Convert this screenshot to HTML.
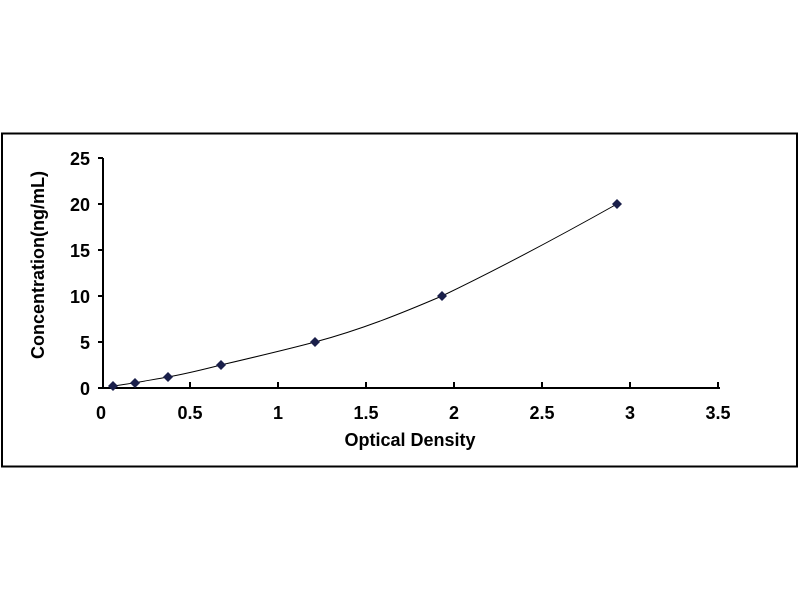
<!DOCTYPE html>
<html><head><style>body{margin:0;background:#fff}</style></head><body>
<svg width="800" height="600" xmlns="http://www.w3.org/2000/svg" style="display:block">
<rect x="0" y="0" width="800" height="600" fill="#fff"/>
<rect x="2" y="133.5" width="795" height="333" fill="none" stroke="#000" stroke-width="2"/>
<g stroke="#000" stroke-width="2" fill="none">
<line x1="103" y1="158" x2="103" y2="388"/>
<line x1="103" y1="388" x2="720" y2="388"/>
<line x1="98" y1="158" x2="103" y2="158"/>
<line x1="98" y1="204" x2="103" y2="204"/>
<line x1="98" y1="250" x2="103" y2="250"/>
<line x1="98" y1="296" x2="103" y2="296"/>
<line x1="98" y1="342" x2="103" y2="342"/>
<line x1="98" y1="388" x2="103" y2="388"/>
<line x1="190" y1="382" x2="190" y2="388"/>
<line x1="278" y1="382" x2="278" y2="388"/>
<line x1="366" y1="382" x2="366" y2="388"/>
<line x1="454" y1="382" x2="454" y2="388"/>
<line x1="542" y1="382" x2="542" y2="388"/>
<line x1="630" y1="382" x2="630" y2="388"/>
<line x1="718" y1="382" x2="718" y2="388"/>
</g>
<g font-family="Liberation Sans, sans-serif" font-weight="bold" font-size="18" fill="#000">
<g text-anchor="end">
<text x="90" y="165">25</text><text x="90" y="211">20</text><text x="90" y="257">15</text>
<text x="90" y="303">10</text><text x="90" y="349">5</text><text x="90" y="395">0</text>
</g>
<g text-anchor="middle">
<text x="101" y="419">0</text><text x="190" y="419">0.5</text><text x="278" y="419">1</text>
<text x="366" y="419">1.5</text><text x="454" y="419">2</text><text x="542" y="419">2.5</text>
<text x="630" y="419">3</text><text x="718" y="419">3.5</text>
<text x="410" y="446">Optical Density</text>
<text transform="translate(44,265) rotate(-90)">Concentration(ng/mL)</text>
</g>
</g>
<path d="M113,386 C130,384 150,380 168,377 C190,373 205,369 221,365 C255,357 285,350 315,342 C360,330 400,314 442,296 C500,268 560,236 617,204" fill="none" stroke="#000" stroke-width="1"/>
<g fill="#1a1f4a">
<path d="M113,381 l5,5 l-5,5 l-5,-5z"/>
<path d="M135,378 l5,5 l-5,5 l-5,-5z"/>
<path d="M168,372 l5,5 l-5,5 l-5,-5z"/>
<path d="M221,360 l5,5 l-5,5 l-5,-5z"/>
<path d="M315,337 l5,5 l-5,5 l-5,-5z"/>
<path d="M442,291 l5,5 l-5,5 l-5,-5z"/>
<path d="M617,199 l5,5 l-5,5 l-5,-5z"/>
</g>
</svg>
</body></html>
